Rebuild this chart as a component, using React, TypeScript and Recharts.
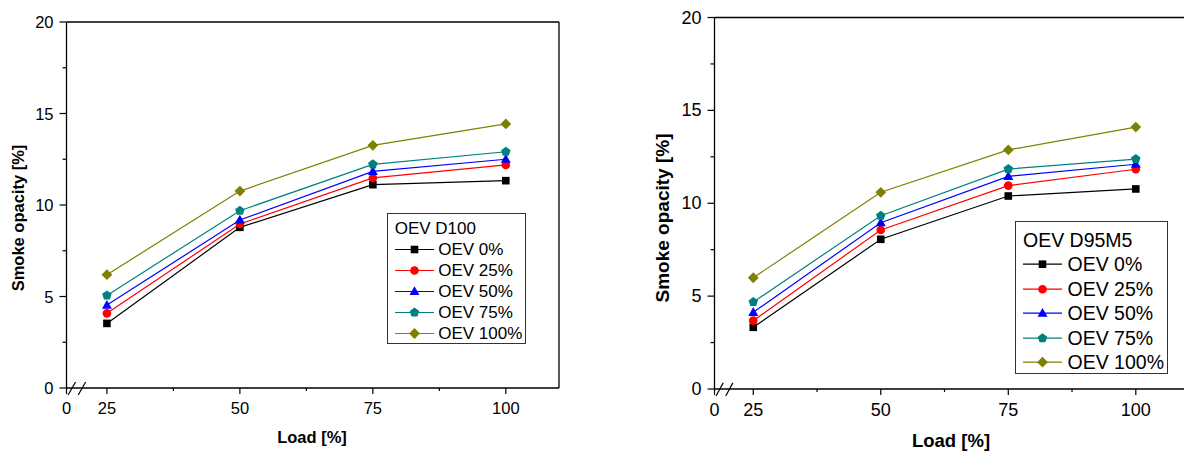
import React from "react";
import {
  LineChart,
  Line,
  XAxis,
  YAxis,
  Legend,
  ReferenceLine,
} from "recharts";

// load points on the x axis
const loads = [25, 50, 75, 100];

const seriesKeys = ["oev0", "oev25", "oev50", "oev75", "oev100"];
const seriesNames = ["OEV 0%", "OEV 25%", "OEV 50%", "OEV 75%", "OEV 100%"];
const seriesColors = ["#000000", "#ff0000", "#0000ff", "#008080", "#808000"];
const seriesShapes = ["square", "circle", "triangle", "pentagon", "diamond"];

// OEV D100 (left panel)
const d100Oev0 = [3.53, 8.78, 11.11, 11.33];
const d100Oev25 = [4.08, 8.96, 11.48, 12.19];
const d100Oev50 = [4.53, 9.18, 11.84, 12.5];
const d100Oev75 = [5.06, 9.69, 12.22, 12.91];
const d100Oev100 = [6.19, 10.76, 13.26, 14.43];

// OEV D95M5 (right panel)
const d95Oev0 = [3.32, 8.06, 10.39, 10.77];
const d95Oev25 = [3.68, 8.56, 10.95, 11.83];
const d95Oev50 = [4.13, 8.95, 11.45, 12.1];
const d95Oev75 = [4.68, 9.33, 11.84, 12.38];
const d95Oev100 = [5.99, 10.59, 12.87, 14.1];

// axis ticks (x axis has a break, origin is labelled 0)
const xOrigin = 17.4;
const xEnd = 110;
const xTicks = [xOrigin, 25, 37.5, 50, 62.5, 75, 87.5, 100];
const yTicks = [0, 2.5, 5, 7.5, 10, 12.5, 15, 17.5, 20];
const topTicks = [0, 10, 20, 30, 40, 50, 60, 70, 80, 90, 100];

const FONT = "'Liberation Sans', Arial, Helvetica, sans-serif";

const buildRows = (cols: number[][]) =>
  loads.map((load, i) => {
    const row: any = { load };
    seriesKeys.forEach((k, j) => {
      row[k] = cols[j][i];
    });
    return row;
  });

const d100Rows = buildRows([d100Oev0, d100Oev25, d100Oev50, d100Oev75, d100Oev100]);
const d95Rows = buildRows([d95Oev0, d95Oev25, d95Oev50, d95Oev75, d95Oev100]);

const Marker = ({ shape, cx, cy, color }: any) => {
  if (cx == null || cy == null) return null;
  if (shape === "square") {
    return <rect x={cx - 3.8} y={cy - 3.8} width={7.6} height={7.6} fill={color} />;
  }
  if (shape === "circle") {
    return <circle cx={cx} cy={cy} r={4.3} fill={color} />;
  }
  if (shape === "triangle") {
    const p = `${cx},${cy - 5.2} ${cx - 5},${cy + 3.6} ${cx + 5},${cy + 3.6}`;
    return <polygon points={p} fill={color} />;
  }
  if (shape === "pentagon") {
    const pts = [0, 1, 2, 3, 4]
      .map((i) => {
        const a = -Math.PI / 2 + (i * 2 * Math.PI) / 5;
        return `${cx + 5 * Math.cos(a)},${cy + 5 * Math.sin(a)}`;
      })
      .join(" ");
    return <polygon points={pts} fill={color} />;
  }
  const d = `${cx},${cy - 5.4} ${cx + 5.4},${cy} ${cx},${cy + 5.4} ${cx - 5.4},${cy}`;
  return <polygon points={d} fill={color} />;
};

const XTick = ({ x, y, payload, fontSize, labelDy }: any) => {
  const v = payload.value;
  const isOrigin = Math.abs(v - xOrigin) < 0.01;
  const minor = !isOrigin && v % 25 !== 0;
  return (
    <g>
      <line x1={x} x2={x} y1={y} y2={y + (minor ? 3 : 6)} stroke="#000" strokeWidth={1.2} />
      {!minor && (
        <text
          x={x}
          y={y + labelDy}
          textAnchor="middle"
          dominantBaseline="central"
          fontSize={fontSize}
          fontFamily={FONT}
          fill="#000"
        >
          {isOrigin ? "0" : v}
        </text>
      )}
    </g>
  );
};

const YTick = ({ x, y, payload, fontSize }: any) => {
  const v = payload.value;
  const minor = v % 5 !== 0;
  return (
    <g>
      <line x1={x - (minor ? 4 : 7)} x2={x} y1={y} y2={y} stroke="#000" strokeWidth={1.2} />
      {!minor && (
        <text
          x={x - 13}
          y={y}
          textAnchor="end"
          dominantBaseline="central"
          fontSize={fontSize}
          fontFamily={FONT}
          fill="#000"
        >
          {v}
        </text>
      )}
    </g>
  );
};

const TopTick = ({ x, y }: any) => (
  <line x1={x} x2={x} y1={y} y2={y + 3} stroke="#000" strokeWidth={1} />
);

const makeLegend = (title: string, box: any) => (props: any) => {
  const payload = [...(props.payload || [])].sort(
    (a: any, b: any) => seriesKeys.indexOf(a.dataKey) - seriesKeys.indexOf(b.dataKey)
  );
  return (
    <div
      style={{
        boxSizing: "border-box",
        width: box.width,
        height: box.height,
        border: "1px solid #333",
        background: "#fff",
        paddingTop: box.padTop,
        paddingLeft: box.padLeft,
        fontFamily: FONT,
        fontSize: box.font,
        color: "#000",
      }}
    >
      <div style={{ height: box.rowH, lineHeight: `${box.rowH}px`, whiteSpace: "nowrap" }}>
        {title}
      </div>
      {payload.map((entry: any) => {
        const idx = seriesKeys.indexOf(entry.dataKey);
        const color = seriesColors[idx];
        return (
          <div
            key={entry.dataKey}
            style={{
              display: "flex",
              alignItems: "center",
              height: box.rowH,
              whiteSpace: "nowrap",
            }}
          >
            <svg width={box.lineW} height={box.rowH} style={{ display: "block" }}>
              <line
                x1={0}
                x2={box.lineW}
                y1={box.rowH / 2}
                y2={box.rowH / 2}
                stroke={color}
                strokeWidth={1.2}
              />
              <Marker shape={seriesShapes[idx]} cx={box.lineW / 2} cy={box.rowH / 2} color={color} />
            </svg>
            <span style={{ marginLeft: box.gap, lineHeight: `${box.rowH}px` }}>
              {entry.value}
            </span>
          </div>
        );
      })}
    </div>
  );
};

const Panel = ({ cfg, rows }: any) => {
  const legend = makeLegend(cfg.legendTitle, cfg.legendBox);
  return (
    <div style={{ position: "absolute", left: cfg.left, top: 0, width: cfg.width, height: 452 }}>
      <LineChart width={cfg.width} height={452} data={rows} margin={cfg.margin}>
        <XAxis
          xAxisId="bottom"
          dataKey="load"
          type="number"
          domain={[xOrigin, xEnd]}
          ticks={xTicks}
          interval={0}
          height={30}
          tickSize={0}
          tickMargin={0}
          tickLine={false}
          axisLine={{ stroke: "#000", strokeWidth: 1.3 }}
          tick={<XTick fontSize={cfg.tickFont} labelDy={cfg.xLabelDy} />}
        />
        <XAxis
          xAxisId="top"
          orientation="top"
          type="number"
          domain={[0, 100]}
          ticks={topTicks}
          interval={0}
          height={1}
          tickSize={0}
          tickMargin={0}
          tickLine={false}
          axisLine={{ stroke: "#000", strokeWidth: 1.3 }}
          tick={<TopTick />}
        />
        <YAxis
          yAxisId="left"
          type="number"
          domain={[0, 20]}
          ticks={yTicks}
          interval={0}
          width={cfg.yAxisWidth}
          tickSize={0}
          tickMargin={0}
          tickLine={false}
          axisLine={{ stroke: "#000", strokeWidth: 1.3 }}
          tick={<YTick fontSize={cfg.tickFont} />}
        />
        <YAxis
          yAxisId="right"
          orientation="right"
          type="number"
          domain={[0, 20]}
          width={1}
          tick={false}
          tickLine={false}
          axisLine={{ stroke: "#000", strokeWidth: 1.3 }}
        />
        <ReferenceLine
          xAxisId="bottom"
          yAxisId="left"
          ifOverflow="visible"
          segment={[
            { x: 17.7, y: -0.38 },
            { x: 19.1, y: 0.33 },
          ]}
          stroke="#000"
          strokeWidth={1.2}
        />
        <ReferenceLine
          xAxisId="bottom"
          yAxisId="left"
          ifOverflow="visible"
          segment={[
            { x: 19.6, y: -0.38 },
            { x: 21, y: 0.33 },
          ]}
          stroke="#000"
          strokeWidth={1.2}
        />
        {seriesKeys.map((k, i) => (
          <Line
            key={k}
            xAxisId="bottom"
            yAxisId="left"
            type="linear"
            dataKey={k}
            name={seriesNames[i]}
            stroke={seriesColors[i]}
            strokeWidth={1.2}
            isAnimationActive={false}
            activeDot={false}
            dot={(p: any) => (
              <Marker
                key={`${k}-${p.index}`}
                shape={seriesShapes[i]}
                cx={p.cx}
                cy={p.cy}
                color={seriesColors[i]}
              />
            )}
          />
        ))}
        <Legend
          layout="vertical"
          align="center"
          verticalAlign="middle"
          content={legend}
          wrapperStyle={{
            left: cfg.legendBox.left,
            top: cfg.legendBox.top,
            width: cfg.legendBox.width,
            height: cfg.legendBox.height,
          }}
        />
      </LineChart>
      <div
        style={{
          position: "absolute",
          left: cfg.xTitle.x,
          top: cfg.xTitle.y,
          transform: "translate(-50%, -50%)",
          fontFamily: FONT,
          fontWeight: "bold",
          fontSize: cfg.xTitle.font,
          whiteSpace: "nowrap",
        }}
      >
        Load [%]
      </div>
      <div
        style={{
          position: "absolute",
          left: cfg.yTitle.x,
          top: cfg.yTitle.y,
          transform: "translate(-50%, -50%) rotate(-90deg)",
          fontFamily: FONT,
          fontWeight: "bold",
          fontSize: cfg.yTitle.font,
          whiteSpace: "nowrap",
        }}
      >
        Smoke opacity [%]
      </div>
    </div>
  );
};

const leftCfg = {
  left: 0,
  width: 600,
  margin: { top: 21, right: 40, bottom: 34, left: 0 },
  yAxisWidth: 66.5,
  tickFont: 16.5,
  xLabelDy: 19.5,
  legendTitle: "OEV D100",
  legendBox: {
    left: 386.7,
    top: 212.7,
    width: 139,
    height: 131.5,
    padTop: 4.5,
    padLeft: 7,
    rowH: 21,
    lineW: 39,
    gap: 4.5,
    font: 17,
  },
  xTitle: { x: 312, y: 437, font: 16.5 },
  yTitle: { x: 18, y: 217.5, font: 16.5 },
};

const rightCfg = {
  left: 600,
  width: 600,
  margin: { top: 16.5, right: 12.2, bottom: 33, left: 0 },
  yAxisWidth: 114.5,
  tickFont: 18,
  xLabelDy: 20.5,
  legendTitle: "OEV D95M5",
  legendBox: {
    left: 415,
    top: 221,
    width: 152.5,
    height: 152.5,
    padTop: 6,
    padLeft: 7,
    rowH: 24.4,
    lineW: 39,
    gap: 5.5,
    font: 19.5,
  },
  xTitle: { x: 351, y: 441, font: 18.5 },
  yTitle: { x: 63, y: 217.5, font: 19 },
};

export default function App() {
  return (
    <div
      style={{
        position: "absolute",
        left: 0,
        top: 0,
        width: 1184,
        height: 452,
        overflow: "hidden",
        background: "#fff",
      }}
    >
      <Panel cfg={leftCfg} rows={d100Rows} />
      <Panel cfg={rightCfg} rows={d95Rows} />
    </div>
  );
}
